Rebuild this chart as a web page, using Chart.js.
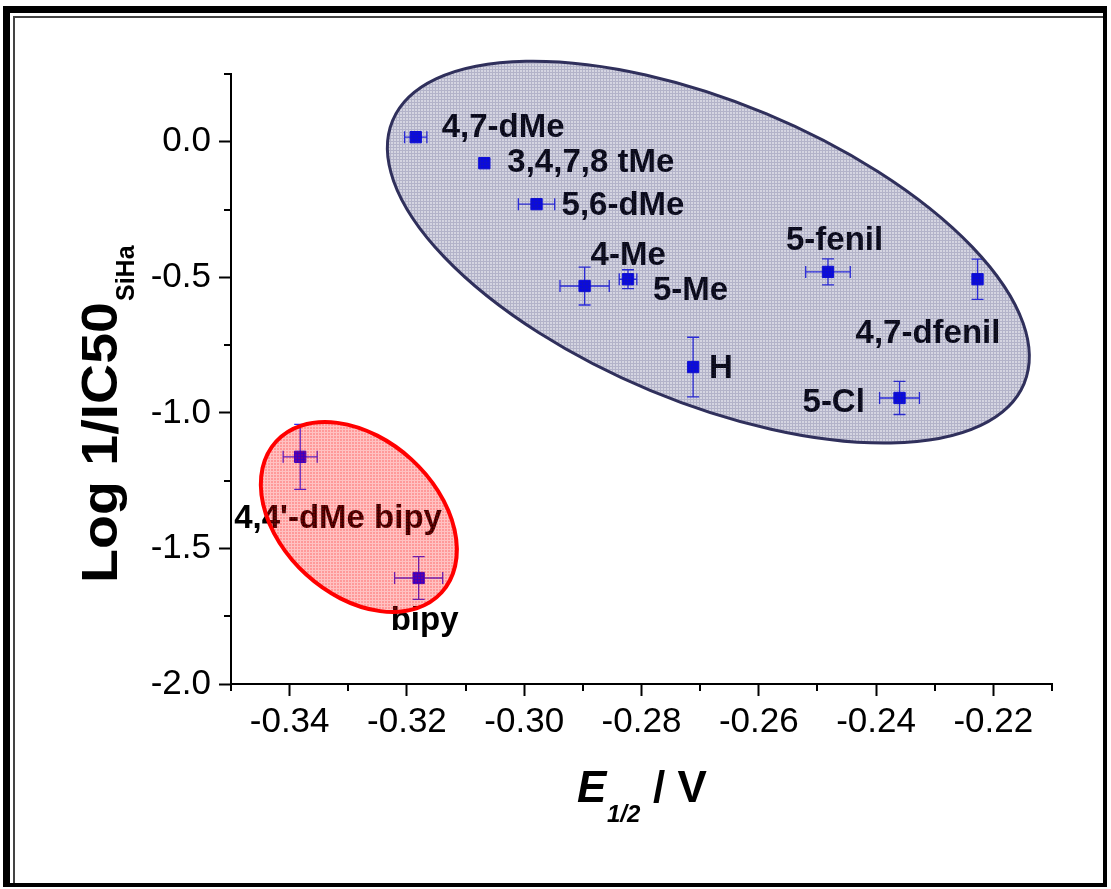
<!DOCTYPE html>
<html><head><meta charset="utf-8">
<script src="https://cdn.jsdelivr.net/npm/chart.js@4.4.1/dist/chart.umd.min.js"></script>
<style>html,body{margin:0;padding:0;background:#fff;} canvas{display:block}</style>
</head><body>
<canvas id="c" width="1111" height="889"></canvas>
<script>
// ---- data ----
const compounds = ['4,7-dMe','3,4,7,8 tMe','5,6-dMe','4-Me','5-Me','H','5-fenil','4,7-dfenil','5-Cl',"4,4'-dMe bipy",'bipy'];
const e12    = [-0.3185,-0.3068,-0.2979,-0.2897,-0.2823,-0.2712,-0.2482,-0.2227,-0.2360,-0.3382,-0.3180];
const logIC  = [ 0.017, -0.079, -0.230, -0.532, -0.507, -0.831, -0.480, -0.507, -0.945, -1.162, -1.609];
const e12Err = [0.0019, 0, 0.0031, 0.0042, 0.0015, 0, 0.0038, 0, 0.0034, 0.0029, 0.0041];
const logErr = [0, 0, 0, 0.070, 0.035, 0.110, 0.048, 0.074, 0.061, 0.120, 0.079];
const xTicks = [-0.34,-0.32,-0.30,-0.28,-0.26,-0.24,-0.22];
const xTickLabels = ['-0.34','-0.32','-0.30','-0.28','-0.26','-0.24','-0.22'];
const xMinor = [-0.35,-0.33,-0.31,-0.29,-0.27,-0.25,-0.23,-0.21];
const yTicks = [0.0,-0.5,-1.0,-1.5,-2.0];
const yTickLabels = ['0.0','-0.5','-1.0','-1.5','-2.0'];
const yMinor = [0.25,-0.25,-0.75,-1.25,-1.75];
const groupCenters = [{x:-0.2686, y:-0.407}, {x:-0.3282, y:-1.384}];

// ---- styles / layout ----
const labelOffsets = [[26,0],[23,9],[25,11],[6,-21],[25,21],[16,11],[-42,-22],[-122,64],[-97,14],[-66,71],[-28,52]];
const ellipseStyles = [
  {a:342, b:150, rot:22.6, base:[45,45,105,0.20], grid:[45,45,105,0.36], stroke:'#30305c', lw:3},
  {a:112, b:78,  rot:42.4, base:[255,0,0,0.40], grid:[255,0,0,0.24], stroke:'#ff0000', lw:4}
];

function makePattern(ctx, base, grid){
  const c = document.createElement('canvas'); c.width = 3; c.height = 3;
  const g = c.getContext('2d'); const img = g.createImageData(3,3);
  for(let yy=0; yy<3; yy++) for(let xx=0; xx<3; xx++){
    const col = (xx===0 || yy===0) ? grid : base; const k = (yy*3+xx)*4;
    img.data[k]=col[0]; img.data[k+1]=col[1]; img.data[k+2]=col[2]; img.data[k+3]=Math.round(col[3]*255);
  }
  g.putImageData(img,0,0);
  return ctx.createPattern(c,'repeat');
}

const decor = {
  id:'decor',
  beforeDatasetsDraw(chart){
    const {ctx, scales:{x,y}} = chart;
    ctx.save(); ctx.strokeStyle = '#2a2aff'; ctx.lineWidth = 1.3;
    const cap = 6;
    e12.forEach((vx,i)=>{
      const px = x.getPixelForValue(vx), py = y.getPixelForValue(logIC[i]);
      if(e12Err[i]>0){
        const l = x.getPixelForValue(vx-e12Err[i]), r = x.getPixelForValue(vx+e12Err[i]);
        ctx.beginPath(); ctx.moveTo(l,py); ctx.lineTo(r,py);
        ctx.moveTo(l,py-cap); ctx.lineTo(l,py+cap); ctx.moveTo(r,py-cap); ctx.lineTo(r,py+cap); ctx.stroke();
      }
      if(logErr[i]>0){
        const t = y.getPixelForValue(logIC[i]+logErr[i]), b = y.getPixelForValue(logIC[i]-logErr[i]);
        ctx.beginPath(); ctx.moveTo(px,t); ctx.lineTo(px,b);
        ctx.moveTo(px-cap,t); ctx.lineTo(px+cap,t); ctx.moveTo(px-cap,b); ctx.lineTo(px+cap,b); ctx.stroke();
      }
    });
    ctx.restore();
  },
  afterDatasetsDraw(chart){
    const {ctx, scales:{x,y}} = chart;
    ctx.save();
    ctx.font = 'bold 33px "Liberation Sans", Arial, sans-serif';
    ctx.fillStyle = '#000'; ctx.textAlign = 'left'; ctx.textBaseline = 'alphabetic';
    compounds.forEach((name,i)=>{
      const px = x.getPixelForValue(e12[i]), py = y.getPixelForValue(logIC[i]);
      ctx.fillText(name, px + labelOffsets[i][0], py + labelOffsets[i][1]);
    });
    groupCenters.forEach((c,i)=>{
      const s = ellipseStyles[i];
      const cx = x.getPixelForValue(c.x), cy = y.getPixelForValue(c.y);
      ctx.save();
      ctx.beginPath();
      ctx.ellipse(cx, cy, s.a, s.b, s.rot*Math.PI/180, 0, Math.PI*2);
      ctx.fillStyle = makePattern(ctx, s.base, s.grid);
      ctx.fill();
      ctx.lineWidth = s.lw; ctx.strokeStyle = s.stroke; ctx.stroke();
      ctx.restore();
    });
    ctx.restore();
  },
  afterDraw(chart){
    const {ctx, scales:{x,y}} = chart;
    ctx.save();
    // minor ticks
    ctx.strokeStyle = '#000'; ctx.lineWidth = 2;
    const ay = y.getPixelForValue(-2.0);
    xMinor.forEach(v=>{ const p = Math.round(x.getPixelForValue(v)); ctx.beginPath(); ctx.moveTo(p, ay); ctx.lineTo(p, ay+7); ctx.stroke(); });
    yMinor.forEach(v=>{ const p = Math.round(y.getPixelForValue(v)); ctx.beginPath(); ctx.moveTo(x.left, p); ctx.lineTo(x.left-7, p); ctx.stroke(); });
    // x title
    ctx.fillStyle = '#000'; ctx.textBaseline = 'alphabetic'; ctx.textAlign = 'left';
    ctx.font = 'italic bold 44px "Liberation Sans", Arial, sans-serif';
    ctx.fillText('E', 577, 802);
    ctx.font = 'italic bold 24px "Liberation Sans", Arial, sans-serif';
    ctx.fillText('1/2', 607, 822);
    ctx.font = 'bold 44px "Liberation Sans", Arial, sans-serif';
    ctx.fillText('/ V', 653, 802);
    // y title
    ctx.save();
    ctx.translate(117, 583); ctx.rotate(-Math.PI/2);
    ctx.font = 'bold 50px "Liberation Sans", Arial, sans-serif';
    const w = ctx.measureText('Log 1/IC50').width;
    const sx = 281 / w;
    ctx.save(); ctx.scale(sx, 1); ctx.fillText('Log 1/IC50', 0, 0); ctx.restore();
    ctx.font = 'bold 25px "Liberation Sans", Arial, sans-serif';
    ctx.fillText('SiHa', 282, 17);
    ctx.restore();
    // frame
    ctx.fillStyle = '#000';
    ctx.fillRect(3, 6, 7, 881);
    ctx.fillRect(3, 6, 1104, 7);
    ctx.fillRect(1103, 6, 4, 881);
    ctx.fillRect(3, 883, 1104, 4);
    ctx.fillStyle = '#444';
    ctx.fillRect(13, 16, 2, 867);
    ctx.fillRect(13, 16, 1090, 2);
    ctx.restore();
  }
};

const tickFont = {family:'"Liberation Sans", Arial, sans-serif', size:35};
new Chart(document.getElementById('c'), {
  type:'scatter',
  data:{ datasets:[{
    data: e12.map((v,i)=>({x:v, y:logIC[i]})),
    backgroundColor:'#0000ff', borderColor:'#0000ff', borderWidth:1,
    pointStyle:'rect', pointRadius:8, pointHoverRadius:8
  }]},
  options:{
    responsive:false, animation:false, devicePixelRatio:1,
    layout:{padding:{left:0, top:74, right:59, bottom:0}},
    plugins:{legend:{display:false}, tooltip:{enabled:false}, title:{display:false}},
    scales:{
      x:{type:'linear', position:'bottom', min:-0.35, max:-0.21,
        afterBuildTicks:s=>{ s.ticks = xTicks.map(v=>({value:v})); },
        afterFit:s=>{ s.height = 205; },
        ticks:{font:tickFont, color:'#000', padding:5, maxRotation:0, autoSkip:false,
          callback:v=>xTickLabels[xTicks.findIndex(t=>Math.abs(t-v)<1e-9)]},
        grid:{drawOnChartArea:false, drawTicks:true, tickLength:12, tickWidth:2, tickColor:'#000'},
        border:{display:true, color:'#000', width:2}},
      y:{type:'linear', position:'left', min:-2.0, max:0.25,
        afterBuildTicks:s=>{ s.ticks = yTicks.map(v=>({value:v})); },
        afterFit:s=>{ s.width = 231; },
        ticks:{font:tickFont, color:'#000', padding:8, autoSkip:false,
          callback:v=>yTickLabels[yTicks.findIndex(t=>Math.abs(t-v)<1e-9)]},
        grid:{drawOnChartArea:false, drawTicks:true, tickLength:12, tickWidth:2, tickColor:'#000'},
        border:{display:true, color:'#000', width:2}}
    }
  },
  plugins:[decor]
});
</script>
</body></html>
